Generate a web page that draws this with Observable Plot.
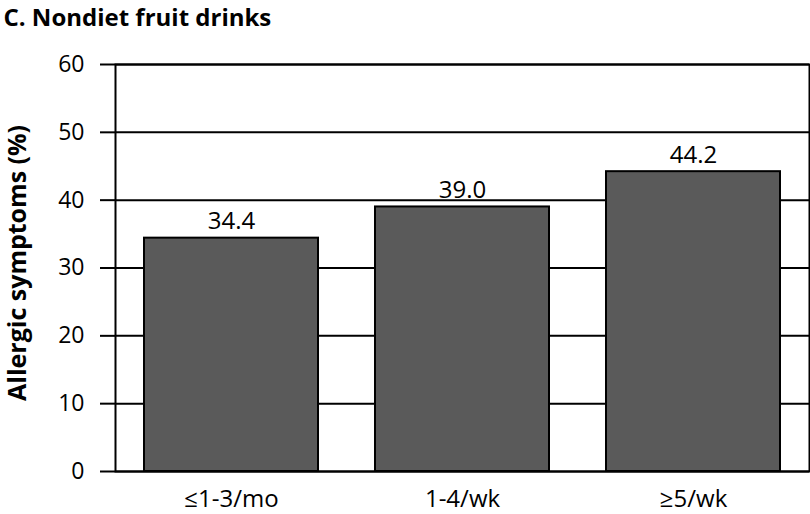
<!DOCTYPE html>
<html>
<head>
<meta charset="utf-8">
<script src="https://cdn.jsdelivr.net/npm/d3@7"></script>
<script src="https://cdn.jsdelivr.net/npm/@observablehq/plot@0.6"></script>
<style>
  html, body { margin: 0; padding: 0; background: #fff; }
  #chart svg { display: block; }
</style>
</head>
<body>
<div id="chart"></div>
<script>
const categories = ["≤1-3/mo", "1-4/wk", "≥5/wk"];
const values = [34.4, 39.0, 44.2];
const valueLabels = ["34.4", "39.0", "44.2"];
const yTicks = [0, 10, 20, 30, 40, 50, 60];
const title = "C. Nondiet fruit drinks";
const yLabel = "Allergic symptoms (%)";

const data = categories.map((c, i) => ({cat: c, value: values[i], label: valueLabels[i]}));
const FONT = "'Open Sans', 'Noto Sans', sans-serif";

const chart = Plot.plot({
  width: 810,
  height: 514,
  marginLeft: 115,
  marginRight: 1,
  marginTop: 64,
  marginBottom: 43,
  style: {fontFamily: FONT, fontSize: "23px", color: "#000", background: "#fff", overflow: "visible"},
  x: {domain: categories, paddingInner: 0.247, paddingOuter: 0.125, label: null},
  y: {domain: [0, 60], label: null},
  marks: [
    Plot.ruleY(yTicks, {stroke: "#000", strokeWidth: 2}),
    Plot.barY(data, {x: "cat", y: "value", fill: "#5a5a5a", stroke: "#000", strokeWidth: 2}),
    Plot.frame({stroke: "#000", strokeWidth: 2}),
    Plot.axisY(yTicks, {tickSize: 15, tickPadding: 16, strokeWidth: 2, stroke: "#000", fontSize: 23, label: null}),
    Plot.axisX({tickSize: 0, tickPadding: 18, fontSize: 24, label: null}),
    Plot.text(data, {x: "cat", y: "value", text: "label", dy: -9, lineAnchor: "bottom", fontSize: 24, fill: "#000"}),
    Plot.text([title], {frameAnchor: "top-left", dx: -112, dy: -64 + 25, lineAnchor: "bottom", textAnchor: "start", fontSize: 24, fontWeight: "bold", fill: "#000"}),
    Plot.text([yLabel], {frameAnchor: "left", dx: -98, dy: -5, rotate: -90, textAnchor: "middle", fontSize: 25, fontWeight: "bold", fill: "#000"})
  ]
});
document.getElementById("chart").appendChild(chart);
</script>
</body>
</html>
